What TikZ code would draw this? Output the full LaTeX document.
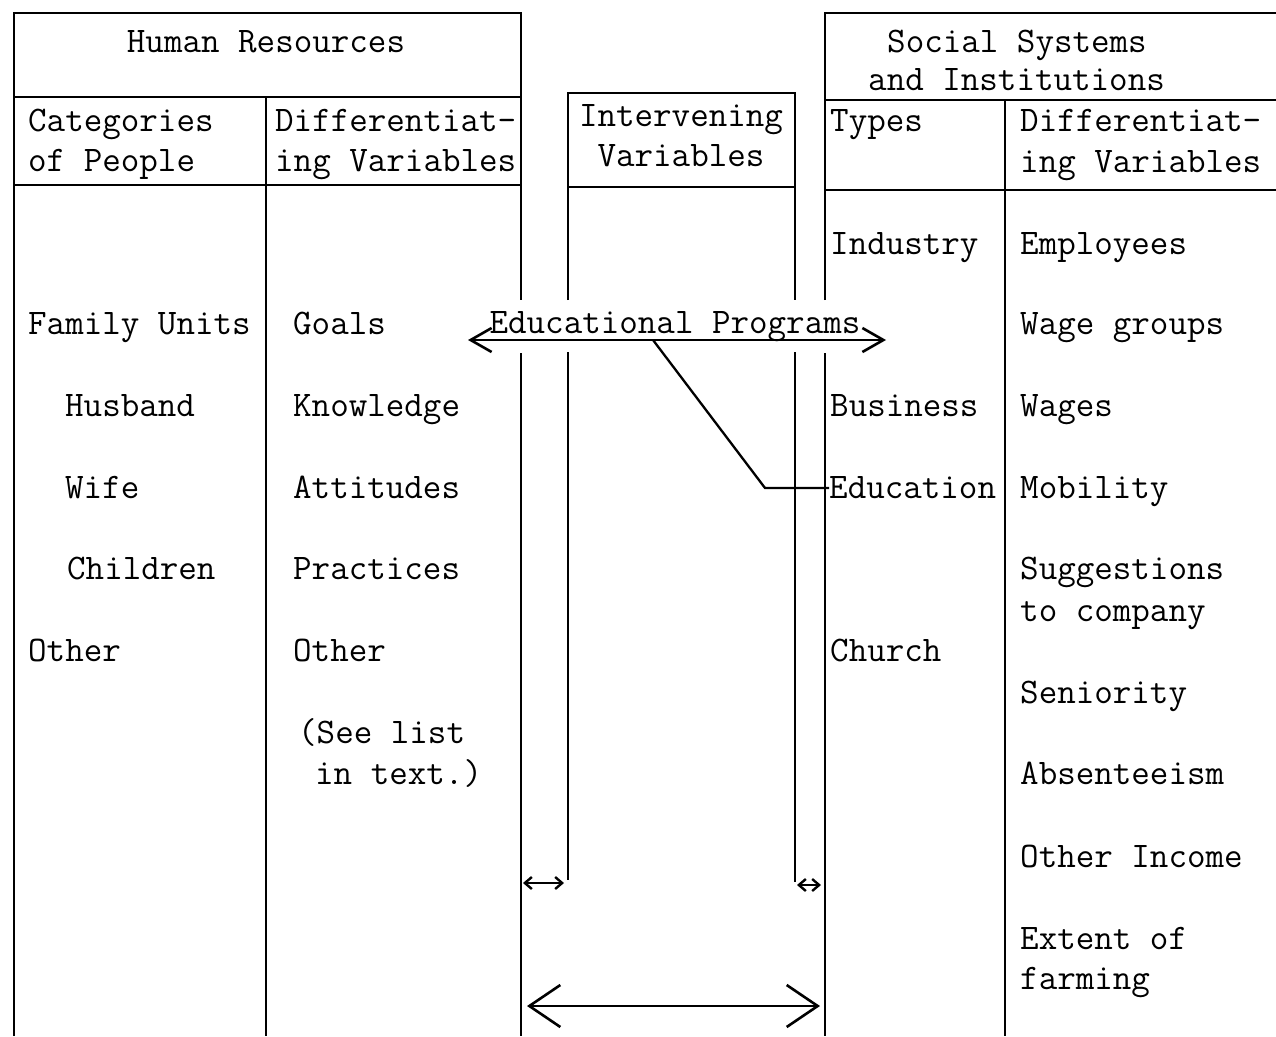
\documentclass[tikz,border=0pt]{standalone}
\usetikzlibrary{arrows.meta}
\tikzset{
  bigtip/.tip={Straight Barb[length=31pt,width=42pt,line width=2.6pt]},
  midtip/.tip={Straight Barb[length=21pt,width=24pt,line width=2.6pt]},
  smalltip/.tip={Straight Barb[length=7pt,width=12pt,line width=2.4pt]}}
\begin{document}
\begin{tikzpicture}[x=1pt,y=-1pt,
  ln/.style={line width=2.8pt,line cap=butt},
  tx/.style={anchor=base west,inner sep=0pt,font=\fontsize{36}{40}\selectfont\ttfamily},
  tc/.style={anchor=base,inner sep=0pt,font=\fontsize{36}{40}\selectfont\ttfamily}]
\useasboundingbox (0,0) rectangle (1276,1036);
% ---- left table: Human Resources
\draw[ln] (14,1036) -- (14,13) -- (521,13) -- (521,300);
\draw[ln] (521,353) -- (521,1036);
\draw[ln] (14,97) -- (521,97);
\draw[ln] (14,185) -- (521,185);
\draw[ln] (266,97) -- (266,1036);
% ---- middle: Intervening Variables
\draw[ln] (568,300) -- (568,93) -- (795,93) -- (795,300);
\draw[ln] (568,187) -- (795,187);
\draw[ln] (568,352) -- (568,880);
\draw[ln] (795,352) -- (795,882);
% ---- right table: Social Systems
\draw[ln] (825,300) -- (825,13) -- (1276,13);
\draw[ln] (825,353) -- (825,1036);
\draw[ln] (825,100) -- (1276,100);
\draw[ln] (825,190) -- (1276,190);
\draw[ln] (1005,100) -- (1005,1036);
% ---- header texts
\node[tc] (hr) at (266,52) {Human Resources};
\node[tx] (cat1) at (28,131) {Categories};
\node[tx] (cat2) at (28,171) {of People};
\node[tx] (dv1) at (275,131) {Differentiat-};
\node[tx] (dv2) at (275,171) {ing Variables};
\node[tc] (iv1) at (681,126) {Intervening};
\node[tc] (iv2) at (681,166) {Variables};
\node[tx] (ss1) at (887,52) {Social Systems};
\node[tx] (ss2) at (868,90) {and Institutions};
\node[tx] (ty) at (830,131) {Types};
\node[tx] (rdv1) at (1020,131) {Differentiat-};
\node[tx] (rdv2) at (1020,172) {ing Variables};
% ---- column 1
\node[tx] (fu) at (28,334) {Family Units};
\node[tx] (hu) at (65,416) {Husband};
\node[tx] (wi) at (65,498) {Wife};
\node[tx] (ch) at (67,579) {Children};
\node[tx] (ot1) at (28,661) {Other};
% ---- column 2
\node[tx] (go) at (293,334) {Goals};
\node[tx] (kn) at (293,416) {Knowledge};
\node[tx] (at) at (293,498) {Attitudes};
\node[tx] (pr) at (293,579) {Practices};
\node[tx] (ot2) at (293,661) {Other};
\node[tx] (sl1) at (298,743) {(See list};
\node[tx] (sl2) at (315,784) {in text.)};
% ---- types column
\node[tx] (ind) at (830,254) {Industry};
\node[tx] (bus) at (830,416) {Business};
\node[tx] (edu) at (829,498) {Education};
\node[tx] (chu) at (830,661) {Church};
% ---- right differentiating column
\node[tx] (emp) at (1020,254) {Employees};
\node[tx] (wg) at (1020,334) {Wage groups};
\node[tx] (wa) at (1020,416) {Wages};
\node[tx] (mo) at (1020,498) {Mobility};
\node[tx] (su1) at (1020,579) {Suggestions};
\node[tx] (su2) at (1020,621) {to company};
\node[tx] (sen) at (1020,703) {Seniority};
\node[tx] (abs) at (1020,784) {Absenteeism};
\node[tx] (oi) at (1020,867) {Other Income};
\node[tx] (ex1) at (1020,949) {Extent of};
\node[tx] (ex2) at (1020,989) {farming};
% ---- Educational Programs
\node[tc] (ep) at (675,333) {Educational Programs};
\coordinate (epL) at (468,340);
\coordinate (epR) at (886,340);
\coordinate (epJ) at (653,340);
\coordinate (bend) at (765,488);
\draw[ln,{midtip}-{midtip}] (epL) -- (epR);
\draw[line width=2.3pt] (epJ) -- (bend) -- (edu.west |- bend);
% ---- small arrows
\coordinate (sa1) at (523,883);
\coordinate (sa2) at (564,883);
\coordinate (sb1) at (797,885);
\coordinate (sb2) at (821,885);
\draw[line width=2.4pt,{smalltip}-{smalltip}] (sa1) -- (sa2);
\draw[line width=2.4pt,{smalltip}-{smalltip}] (sb1) -- (sb2);
% ---- big bottom arrow
\coordinate (ba1) at (527,1006);
\coordinate (ba2) at (820,1006);
\draw[ln,{bigtip}-{bigtip}] (ba1) -- (ba2);
\end{tikzpicture}
\end{document}
